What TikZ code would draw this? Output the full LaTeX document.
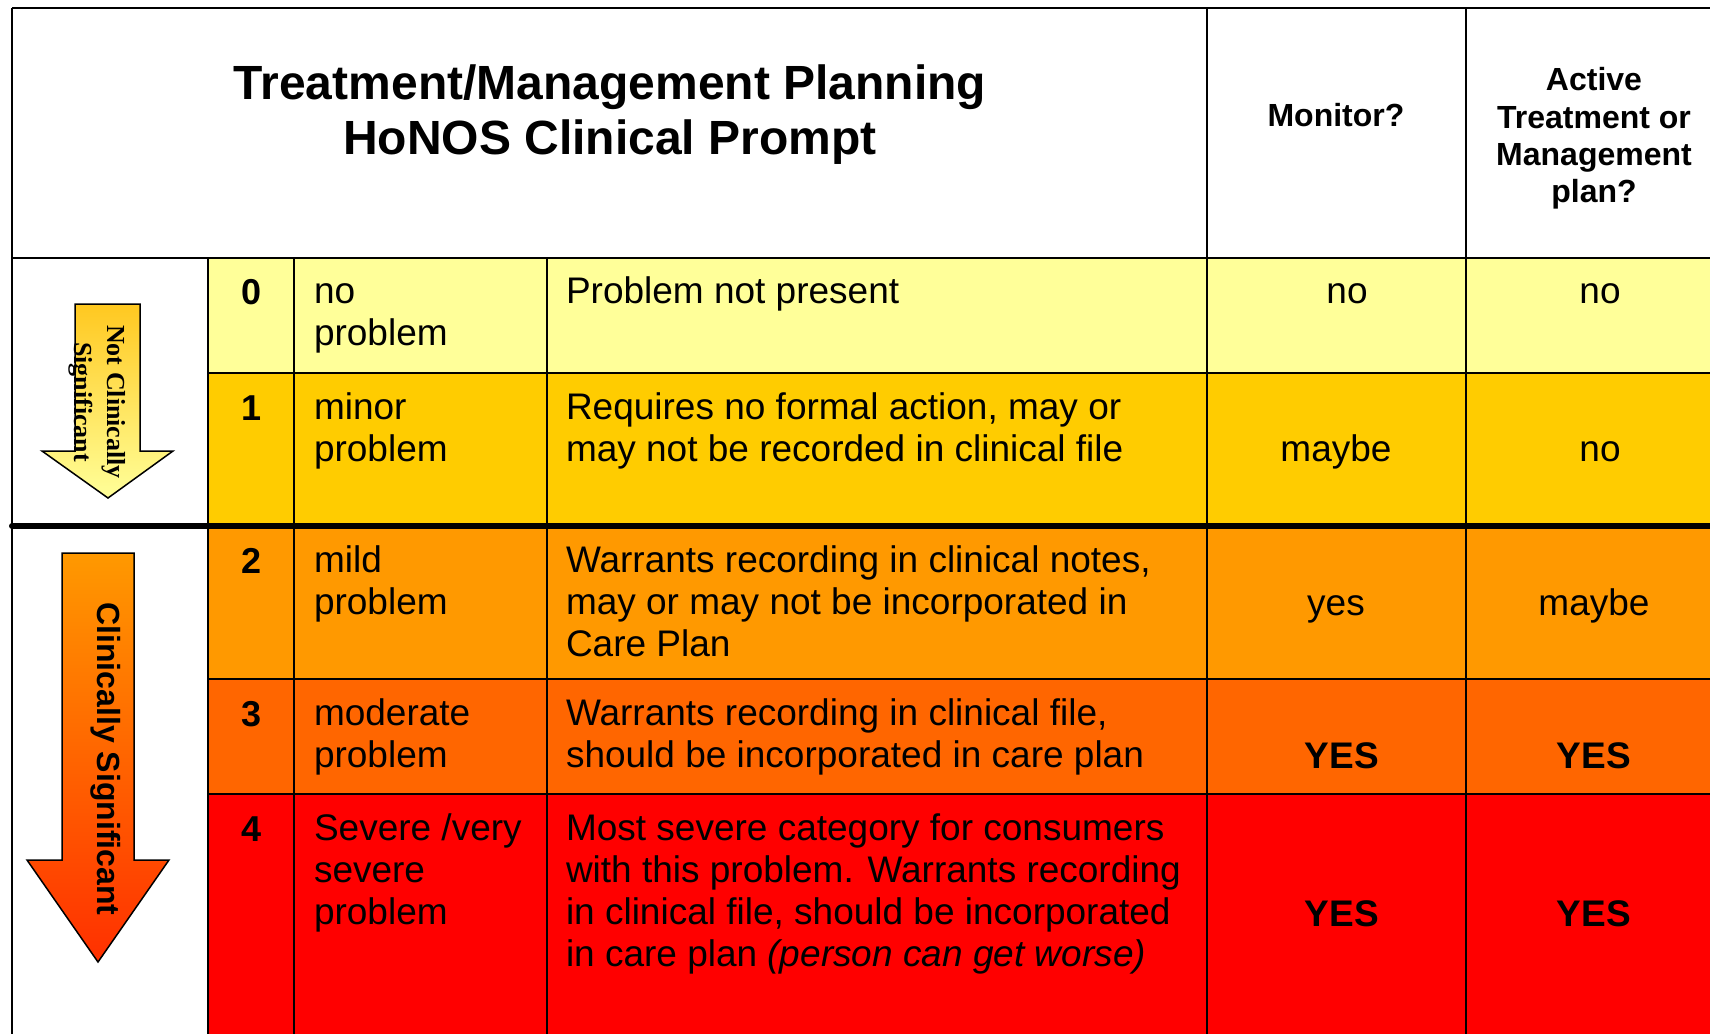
\documentclass[tikz,border=0pt]{standalone}
\usepackage{fontspec}
\setmainfont{Liberation Sans}
\newfontfamily\timesfont{Liberation Serif}
\usepackage{tikz}
\definecolor{lev0}{HTML}{FFFF99}
\definecolor{lev1}{HTML}{FFCC00}
\definecolor{lev2}{HTML}{FF9900}
\definecolor{lev3}{HTML}{FF6600}
\definecolor{lev4}{HTML}{FF0000}
\definecolor{nctop}{HTML}{FFC820}
\definecolor{csbot}{HTML}{FF3000}
\newcommand{\tstrut}{\rule{0pt}{0.8em}}
\tikzset{
  body/.style={font=\fontsize{18.5pt}{21pt}\selectfont, inner sep=0pt},
  desc/.style={body, anchor=north west, align=left},
  score/.style={font=\bfseries\fontsize{18pt}{21pt}\selectfont, inner sep=0pt, anchor=base},
  answer/.style={body, anchor=base},
  bigyes/.style={answer, font=\bfseries\fontsize{18.5pt}{21pt}\selectfont},
  headsmall/.style={font=\bfseries\fontsize{16pt}{18.7pt}\selectfont, inner sep=0pt, align=center}
}

\begin{document}
\begin{tikzpicture}[x=0.5pt, y=-0.5pt, line width=1pt]
\useasboundingbox (0,0) rectangle (1710,1034);

% row colours
\fill[lev0] (208,258) rectangle (1710,373);
\fill[lev1] (208,373) rectangle (1710,526);
\fill[lev2] (208,526) rectangle (1710,679);
\fill[lev3] (208,679) rectangle (1710,794);
\fill[lev4] (208,794) rectangle (1710,1034);

% arrows
\shadedraw[top color=nctop, bottom color=lev0, draw=black, line width=0.75pt]
  (75,304) -- (140,304) -- (140,451) -- (173,451) -- (108,498) -- (42,451) -- (75,451) -- cycle;
\shadedraw[top color=lev2, bottom color=csbot, draw=black, line width=0.75pt]
  (62,553) -- (134,553) -- (134,860) -- (169,860) -- (98,962) -- (27,860) -- (62,860) -- cycle;
\node[rotate=-90, font=\timesfont\bfseries\fontsize{13pt}{16.5pt}\selectfont, align=center, inner sep=0pt] (ncs) at (97,402) {Not Clinically\\Significant};
\node[rotate=-90, font=\bfseries\fontsize{16pt}{19pt}\selectfont, inner sep=0pt] (cs) at (106,759) {Clinically Significant};

% grid
\draw (12,8) -- (1710,8);
\draw (12,8) -- (12,1034);
\draw (12,258) -- (1710,258);
\draw (208,373) -- (1710,373);
\draw (208,679) -- (1710,679);
\draw (208,794) -- (1710,794);
\draw (208,258) -- (208,1034);
\draw (294,258) -- (294,1034);
\draw (547,258) -- (547,1034);
\draw (1207,8) -- (1207,1034);
\draw (1466,8) -- (1466,1034);
\draw[line width=3pt, line cap=round] (12,526) -- (1710,526);

% header
\node[font=\bfseries\fontsize{24pt}{27.6pt}\selectfont, align=center, anchor=north, inner sep=0pt] (title) at (610,60) {\tstrut Treatment/Management Planning\\HoNOS Clinical Prompt};
\node[headsmall, anchor=base] (monitor) at (1336,126) {Monitor?};
\node[headsmall, anchor=north] (active) at (1594,64) {\tstrut Active\\Treatment or\\Management\\plan?};

% row 0
\node[score] (s0) at (252,304) {0};
\node[desc] (l0) at (313,273) {\tstrut no\\problem};
\node[desc] (d0) at (565,273) {\tstrut Problem not present};
\node[answer] (m0) at (1347,303) {no};
\node[answer] (a0) at (1600,303) {no};

% row 1
\node[score] (s1) at (252,420) {1};
\node[desc] (l1) at (313,389) {\tstrut minor\\problem};
\node[desc] (d1) at (565,389) {\tstrut Requires no formal action, may or\\may not be recorded in clinical file};
\node[answer] (m1) at (1336,461) {maybe};
\node[answer] (a1) at (1600,461) {no};

% row 2
\node[score] (s2) at (252,573) {2};
\node[desc] (l2) at (313,542) {\tstrut mild\\problem};
\node[desc] (d2) at (565,542) {\tstrut Warrants recording in clinical notes,\\may or may not be incorporated in\\Care Plan};
\node[answer] (m2) at (1336,615) {yes};
\node[answer] (a2) at (1594,615) {maybe};

% row 3
\node[score] (s3) at (252,726) {3};
\node[desc] (l3) at (313,695) {\tstrut moderate\\problem};
\node[desc] (d3) at (565,695) {\tstrut Warrants recording in clinical file,\\should be incorporated in care plan};
\node[bigyes] (m3) at (1342,768) {YES};
\node[bigyes] (a3) at (1594,768) {YES};

% row 4
\node[score] (s4) at (252,841) {4};
\node[desc] (l4) at (313,810) {\tstrut Severe /very\\severe\\problem};
\node[desc] (d4) at (565,810) {\tstrut Most severe category for consumers\\with this problem. Warrants recording\\in clinical file, should be incorporated\\in care plan \textit{(person can get worse)}};
\node[bigyes] (m4) at (1342,926) {YES};
\node[bigyes] (a4) at (1594,926) {YES};

\end{tikzpicture}
\end{document}
